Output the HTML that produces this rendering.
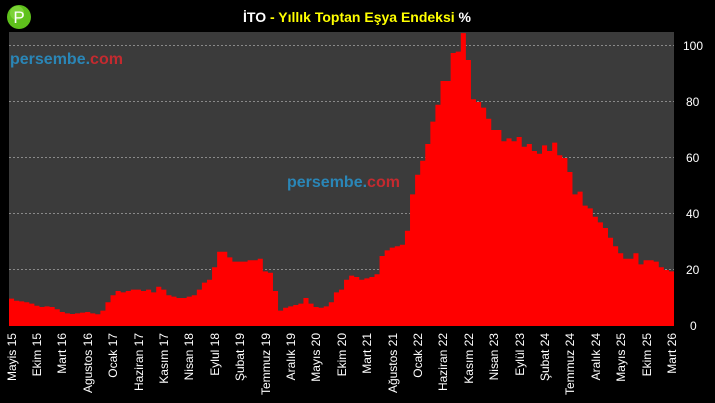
<!DOCTYPE html>
<html><head><meta charset="utf-8"><style>
html,body{margin:0;padding:0;background:#000;width:715px;height:403px;overflow:hidden}
svg{display:block;font-family:"Liberation Sans",sans-serif}
</style></head><body>
<svg id="s" width="715" height="403" viewBox="0 0 715 403">
<rect width="715" height="403" fill="#000"/>
<rect x="9" y="32" width="665" height="294" fill="#3b3b3b"/>
<g stroke="#8a8a8a" stroke-width="1" stroke-dasharray="2,2">
<line x1="9" x2="674" y1="45.5" y2="45.5"/><line x1="9" x2="674" y1="101.5" y2="101.5"/>
<line x1="9" x2="674" y1="157.5" y2="157.5"/><line x1="9" x2="674" y1="213.5" y2="213.5"/>
<line x1="9" x2="674" y1="269.5" y2="269.5"/>
</g>
<path id="bars" fill="#ff0000" d=""/>
<g font-size="12" fill="#fff">
<text x="683" y="50">100</text><text x="686" y="106">80</text><text x="686" y="162">60</text>
<text x="686" y="218">40</text><text x="686" y="274">20</text><text x="690" y="330">0</text>
</g>
<circle cx="19" cy="17" r="12" fill="#5fc11c"/>
<circle cx="17" cy="13" r="7" fill="#8fe04a" opacity="0.6"/>
<text x="19" y="23" font-size="17" fill="#fff" text-anchor="middle">P</text>
<text x="357" y="22" font-size="14" font-weight="bold" text-anchor="middle"><tspan fill="#fff">İTO</tspan><tspan fill="#ffff00"> - Yıllık Toptan Eşya Endeksi </tspan><tspan fill="#fff">%</tspan></text>
<text x="10" y="64" font-size="16" font-weight="bold"><tspan fill="#2a86b7">persembe.</tspan><tspan fill="#c42a2f">com</tspan></text>
<text x="287" y="187" font-size="16" font-weight="bold"><tspan fill="#2a86b7">persembe.</tspan><tspan fill="#c42a2f">com</tspan></text>
<g font-size="12" fill="#fff" text-anchor="end">
<text transform="translate(16,333) rotate(-90)">Mayis 15</text>
<text transform="translate(41,333) rotate(-90)">Ekim 15</text>
<text transform="translate(66,333) rotate(-90)">Mart 16</text>
<text transform="translate(92,333) rotate(-90)">Agustos 16</text>
<text transform="translate(117,333) rotate(-90)">Ocak 17</text>
<text transform="translate(143,333) rotate(-90)">Haziran 17</text>
<text transform="translate(168,333) rotate(-90)">Kasım 17</text>
<text transform="translate(193,333) rotate(-90)">Nisan 18</text>
<text transform="translate(219,333) rotate(-90)">Eylul 18</text>
<text transform="translate(244,333) rotate(-90)">Şubat 19</text>
<text transform="translate(270,333) rotate(-90)">Temmuz 19</text>
<text transform="translate(295,333) rotate(-90)">Aralık 19</text>
<text transform="translate(320,333) rotate(-90)">Mayıs 20</text>
<text transform="translate(346,333) rotate(-90)">Ekim 20</text>
<text transform="translate(371,333) rotate(-90)">Mart 21</text>
<text transform="translate(397,333) rotate(-90)">Ağustos 21</text>
<text transform="translate(422,333) rotate(-90)">Ocak 22</text>
<text transform="translate(447,333) rotate(-90)">Haziran 22</text>
<text transform="translate(473,333) rotate(-90)">Kasım 22</text>
<text transform="translate(498,333) rotate(-90)">Nisan 23</text>
<text transform="translate(524,333) rotate(-90)">Eylül 23</text>
<text transform="translate(549,333) rotate(-90)">Şubat 24</text>
<text transform="translate(574,333) rotate(-90)">Temmuz 24</text>
<text transform="translate(600,333) rotate(-90)">Aralık 24</text>
<text transform="translate(625,333) rotate(-90)">Mayıs 25</text>
<text transform="translate(651,333) rotate(-90)">Ekim 25</text>
<text transform="translate(676,333) rotate(-90)">Mart 26</text>
</g>
</svg>
<script>
var v=[9.8,9,8.8,8.5,8,7.2,6.8,7,
6.8,6,5,4.5,4.3,4.5,4.8,5,4.5,4.2,5.5,8.5,
11,12.5,12,12.5,13,13,12.5,13,12,14,13,11,
10.5,10,10,10.5,11,13,15.5,16.5,21,26.5,26.5,24.5,
23,23,23,23.5,23.5,24,19.5,19,12.5,5.5,6.5,7,
7.5,8,10,8,6.8,6.5,7,8.5,12,13,16.5,18,
17.5,16.5,17,17.5,18.5,25,27,28,28.5,29,34,47,
54,59,65,73,79,87.5,87.5,97.5,98,104.6,95,81,
80,78,74,70,70,66,67,66,67.5,64,65,62.5,
61.5,64.5,62.5,65.5,61,60,55,47,48,43,42,39,
37,35,31.5,28.5,26,24,24,26,22,23.5,23.5,23,21,20,19.5];
var w=665/v.length,d="M9,326";
for(var i=0;i<v.length;i++){var y=(326-v[i]*2.8).toFixed(1);d+="L"+(9+i*w).toFixed(2)+","+y+"L"+(9+(i+1)*w).toFixed(2)+","+y;}
d+="L674,326Z";document.getElementById("bars").setAttribute("d",d);
</script>
</body></html>
